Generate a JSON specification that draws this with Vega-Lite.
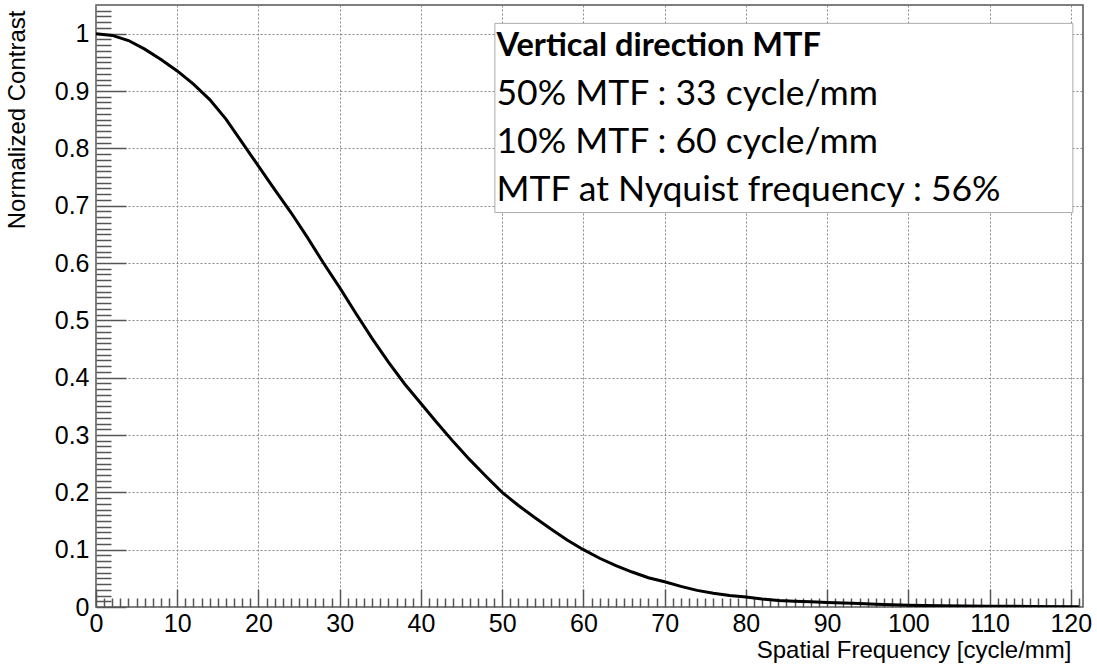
{
  "$schema": "https://vega.github.io/schema/vega-lite/v6.json",
  "width": 987,
  "height": 602,
  "autosize": {"type": "none"},
  "padding": {"left": 96, "top": 5, "right": 14, "bottom": 61},
  "background": "white",
  "config": {
    "view": {"stroke": "#555", "strokeWidth": 1.5},
    "axis": {"labelFont": "Liberation Sans", "titleFont": "Liberation Sans", "labelFlush": false, "labelOverlap": false, "labelBound": false, "labelColor": "black", "titleColor": "black", "titleFontWeight": "normal"}
  },
  "datasets": {
    "mtf": [
      {"freq": 0, "contrast": 1.0},
      {"freq": 2, "contrast": 0.997},
      {"freq": 4, "contrast": 0.988},
      {"freq": 6, "contrast": 0.973},
      {"freq": 8, "contrast": 0.955},
      {"freq": 10, "contrast": 0.935},
      {"freq": 12, "contrast": 0.912},
      {"freq": 14, "contrast": 0.885},
      {"freq": 16, "contrast": 0.851},
      {"freq": 18, "contrast": 0.81},
      {"freq": 20, "contrast": 0.769},
      {"freq": 22, "contrast": 0.728},
      {"freq": 24, "contrast": 0.688},
      {"freq": 26, "contrast": 0.645},
      {"freq": 28, "contrast": 0.6},
      {"freq": 30, "contrast": 0.557},
      {"freq": 32, "contrast": 0.512},
      {"freq": 34, "contrast": 0.468},
      {"freq": 36, "contrast": 0.427},
      {"freq": 38, "contrast": 0.389},
      {"freq": 40, "contrast": 0.355},
      {"freq": 42, "contrast": 0.321},
      {"freq": 44, "contrast": 0.288},
      {"freq": 46, "contrast": 0.257},
      {"freq": 48, "contrast": 0.228},
      {"freq": 50, "contrast": 0.2},
      {"freq": 52, "contrast": 0.177},
      {"freq": 54, "contrast": 0.156},
      {"freq": 56, "contrast": 0.136},
      {"freq": 58, "contrast": 0.117},
      {"freq": 60, "contrast": 0.1},
      {"freq": 62, "contrast": 0.085},
      {"freq": 64, "contrast": 0.072},
      {"freq": 66, "contrast": 0.061},
      {"freq": 68, "contrast": 0.051},
      {"freq": 70, "contrast": 0.044},
      {"freq": 72, "contrast": 0.036},
      {"freq": 74, "contrast": 0.029},
      {"freq": 76, "contrast": 0.024},
      {"freq": 78, "contrast": 0.02},
      {"freq": 80, "contrast": 0.0175},
      {"freq": 82, "contrast": 0.014},
      {"freq": 84, "contrast": 0.0115},
      {"freq": 86, "contrast": 0.01},
      {"freq": 88, "contrast": 0.009},
      {"freq": 90, "contrast": 0.008},
      {"freq": 92, "contrast": 0.007},
      {"freq": 94, "contrast": 0.006},
      {"freq": 96, "contrast": 0.005},
      {"freq": 98, "contrast": 0.004},
      {"freq": 100, "contrast": 0.003},
      {"freq": 104, "contrast": 0.002},
      {"freq": 110, "contrast": 0.0015},
      {"freq": 115, "contrast": 0.001},
      {"freq": 121, "contrast": 0.0005}
    ],
    "note": [
      {"title": "Vertical direction MTF", "body": "50% MTF : 33 cycle/mm\n10% MTF : 60 cycle/mm\nMTF at Nyquist frequency : 56%"}
    ]
  },
  "layer": [
    {
      "data": {"name": "mtf"},
      "mark": {"type": "point", "opacity": 0},
      "encoding": {
        "x": {"field": "freq", "type": "quantitative", "scale": {"domain": [0, 121.5], "nice": false, "zero": false},
          "axis": {"orient": "bottom", "values": [0, 10, 20, 30, 40, 50, 60, 70, 80, 90, 100, 110, 120], "format": "d", "grid": true, "gridDash": [2, 2], "gridColor": "#888", "gridWidth": 1, "ticks": false, "domain": false, "labelFontSize": 25, "labelPadding": 4,
            "title": "Spatial Frequency [cycle/mm]", "titleFontSize": 24, "titleAnchor": "end", "titleAlign": "right", "titleBaseline": "alphabetic", "titleX": 975, "titleY": 50, "titleAngle": 0}},
        "y": {"field": "contrast", "type": "quantitative", "scale": {"domain": [0, 1.05], "nice": false, "zero": false},
          "axis": {"orient": "left", "values": [0, 0.1, 0.2, 0.3, 0.4, 0.5, 0.6, 0.7, 0.8, 0.9, 1], "format": "~g", "grid": true, "gridDash": [2, 2], "gridColor": "#888", "gridWidth": 1, "ticks": false, "domain": false, "labelFontSize": 25, "labelPadding": 7,
            "title": "Normalized Contrast", "titleFontSize": 24, "titleAngle": -90, "titleAlign": "right", "titleBaseline": "alphabetic", "titleX": -72, "titleY": 5}}
      }
    },
    {
      "data": {"name": "mtf"},
      "mark": {"type": "point", "opacity": 0},
      "encoding": {
        "x": {"field": "freq", "type": "quantitative", "scale": {"domain": [0, 121.5], "nice": false, "zero": false},
          "axis": {"orient": "bottom", "values": [0, 10, 20, 30, 40, 50, 60, 70, 80, 90, 100, 110, 120], "labels": false, "grid": false, "domain": false, "ticks": true, "tickSize": -18, "tickWidth": 1.5, "tickColor": "#555", "title": null}},
        "y": {"field": "contrast", "type": "quantitative", "scale": {"domain": [0, 1.05], "nice": false, "zero": false},
          "axis": {"orient": "left", "values": [0, 0.1, 0.2, 0.3, 0.4, 0.5, 0.6, 0.7, 0.8, 0.9, 1], "labels": false, "grid": false, "domain": false, "ticks": true, "tickSize": -30, "tickWidth": 1.5, "tickColor": "#555", "title": null}}
      }
    },
    {
      "data": {"name": "mtf"},
      "mark": {"type": "point", "opacity": 0},
      "encoding": {
        "x": {"field": "freq", "type": "quantitative", "scale": {"domain": [0, 121.5], "nice": false, "zero": false},
          "axis": {"orient": "bottom", "values": [1,2,3,4,5,6,7,8,9,11,12,13,14,15,16,17,18,19,21,22,23,24,25,26,27,28,29,31,32,33,34,35,36,37,38,39,41,42,43,44,45,46,47,48,49,51,52,53,54,55,56,57,58,59,61,62,63,64,65,66,67,68,69,71,72,73,74,75,76,77,78,79,81,82,83,84,85,86,87,88,89,91,92,93,94,95,96,97,98,99,101,102,103,104,105,106,107,108,109,111,112,113,114,115,116,117,118,119,121], "labels": false, "grid": false, "domain": false, "ticks": true, "tickSize": -9, "tickWidth": 1.5, "tickColor": "#555", "title": null}},
        "y": {"field": "contrast", "type": "quantitative", "scale": {"domain": [0, 1.05], "nice": false, "zero": false},
          "axis": {"orient": "left", "values": [0.01,0.02,0.03,0.04,0.05,0.06,0.07,0.08,0.09,0.11,0.12,0.13,0.14,0.15,0.16,0.17,0.18,0.19,0.21,0.22,0.23,0.24,0.25,0.26,0.27,0.28,0.29,0.31,0.32,0.33,0.34,0.35,0.36,0.37,0.38,0.39,0.41,0.42,0.43,0.44,0.45,0.46,0.47,0.48,0.49,0.51,0.52,0.53,0.54,0.55,0.56,0.57,0.58,0.59,0.61,0.62,0.63,0.64,0.65,0.66,0.67,0.68,0.69,0.71,0.72,0.73,0.74,0.75,0.76,0.77,0.78,0.79,0.81,0.82,0.83,0.84,0.85,0.86,0.87,0.88,0.89,0.91,0.92,0.93,0.94,0.95,0.96,0.97,0.98,0.99,1.01,1.02,1.03,1.04], "labels": false, "grid": false, "domain": false, "ticks": true, "tickSize": -15, "tickWidth": 1.5, "tickColor": "#555", "title": null}}
      }
    },
    {
      "data": {"name": "note"},
      "mark": {"type": "rect", "fill": "white", "stroke": "#aaa", "strokeWidth": 1},
      "encoding": {
        "x": {"datum": 49.1, "type": "quantitative", "axis": null},
        "x2": {"datum": 120.25},
        "y": {"datum": 1.018, "type": "quantitative", "axis": null},
        "y2": {"datum": 0.688}
      }
    },
    {
      "data": {"name": "mtf"},
      "mark": {"type": "line", "color": "black", "strokeWidth": 3, "clip": true},
      "encoding": {
        "x": {"field": "freq", "type": "quantitative", "axis": null},
        "y": {"field": "contrast", "type": "quantitative", "axis": null}
      }
    },
    {
      "data": {"name": "note"},
      "mark": {"type": "text", "font": "Lato", "fontSize": 32.5, "fontWeight": "bold", "align": "left", "baseline": "alphabetic", "color": "black"},
      "encoding": {
        "x": {"datum": 49.3, "type": "quantitative", "axis": null},
        "y": {"datum": 0.9604, "type": "quantitative", "axis": null},
        "text": {"field": "title"}
      }
    },
    {
      "data": {"name": "note"},
      "mark": {"type": "text", "font": "Lato", "fontSize": 35.5, "align": "left", "baseline": "alphabetic", "lineBreak": "\n", "lineHeight": 48, "color": "black"},
      "encoding": {
        "x": {"datum": 49.3, "type": "quantitative", "axis": null},
        "y": {"datum": 0.8749, "type": "quantitative", "axis": null},
        "text": {"field": "body"}
      }
    }
  ],
  "resolve": {"axis": {"x": "independent", "y": "independent"}}
}
